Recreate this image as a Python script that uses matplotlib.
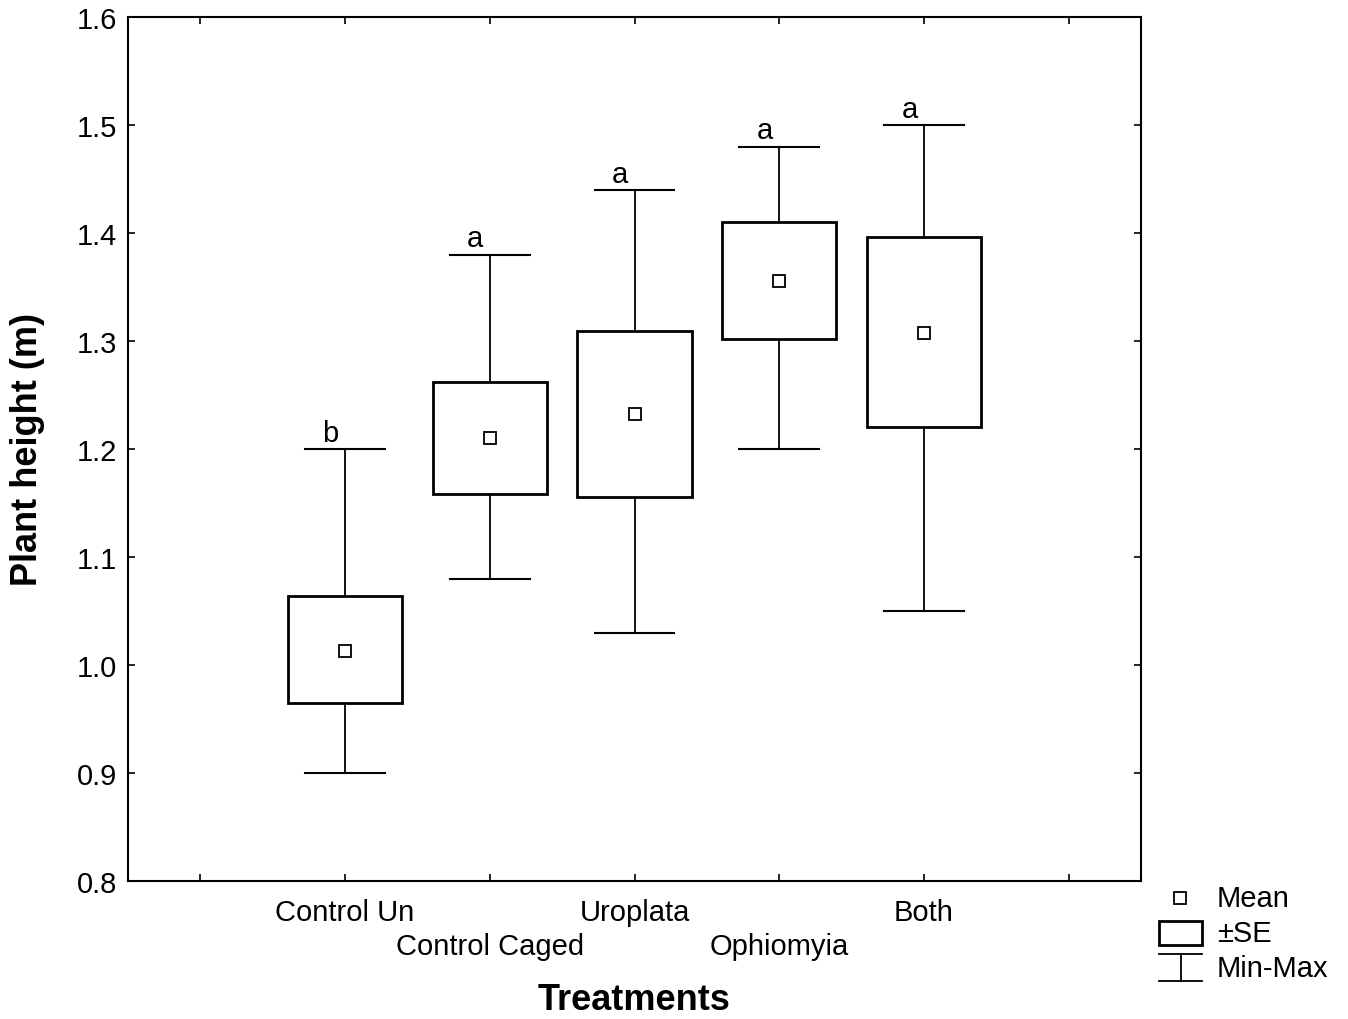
import matplotlib.pyplot as plt
from matplotlib.lines import Line2D
from matplotlib.patches import Rectangle

treatments = ['Control Un', 'Control Caged', 'Uroplata', 'Ophiomyia', 'Both']
means = [1.013, 1.210, 1.232, 1.356, 1.307]
se_low = [0.965, 1.158, 1.156, 1.302, 1.220]
se_high = [1.064, 1.262, 1.309, 1.410, 1.396]
mins = [0.90, 1.08, 1.03, 1.20, 1.05]
maxs = [1.20, 1.38, 1.44, 1.48, 1.50]
letters = ['b', 'a', 'a', 'a', 'a']

plt.rcParams['font.family'] = ['Liberation Sans', 'DejaVu Sans']
FS = 21

fig = plt.figure(figsize=(13.48, 10.2), dpi=100)
ax = fig.add_axes([128 / 1348, 1 - 882 / 1020, (1141 - 128) / 1348, (882 - 18) / 1020])

box_w = 0.79
cap_w = 0.55
for i, name in enumerate(treatments):
    x = i + 1
    ax.plot([x, x], [se_high[i], maxs[i]], color='black', lw=1.3, zorder=2)
    ax.plot([x, x], [mins[i], se_low[i]], color='black', lw=1.3, zorder=2)
    ax.plot([x - cap_w / 2, x + cap_w / 2], [maxs[i], maxs[i]], color='black', lw=1.5, zorder=2)
    ax.plot([x - cap_w / 2, x + cap_w / 2], [mins[i], mins[i]], color='black', lw=1.5, zorder=2)
    ax.add_patch(Rectangle((x - box_w / 2, se_low[i]), box_w, se_high[i] - se_low[i],
                           facecolor='white', edgecolor='black', lw=2, zorder=3))
    ax.plot(x, means[i], marker='s', ms=8, mfc='white', mec='black', mew=1.3, zorder=4)
    ax.text(x - 0.1, maxs[i] + 0.002, letters[i], ha='center', va='bottom', fontsize=FS)

ax.set_xlim(-0.5, 6.5)
ax.set_ylim(0.8, 1.6)
ax.set_xticks(range(7))
ax.set_xticklabels([''] * 7)
ax.set_yticks([0.8 + 0.1 * k for k in range(9)])
ax.set_yticklabels([f'{0.8 + 0.1 * k:.1f}' for k in range(9)], fontsize=FS)
ax.tick_params(direction='in', length=5, width=1.2, top=True, right=True, pad=8)
for s in ax.spines.values():
    s.set_linewidth(1.5)

# staggered category labels
for i, name in enumerate(treatments):
    ypix = 913 if i % 2 == 0 else 947
    fig.text(ax.transData.transform((i + 1, 1.0))[0] / 1348, 1 - ypix / 1020, name,
             ha='center', va='center', fontsize=FS)

ax.set_xlabel('Treatments', fontsize=26, fontweight='bold', va='center')
ax.xaxis.set_label_coords(0.5, -(1000 - 882) / 864)
ax.set_ylabel('Plant height (m)', fontsize=26, fontweight='bold', va='center')
ax.yaxis.set_label_coords(-(128 - 28) / 1013, 0.5)

# legend (drawn by hand outside the axes)
fig.add_artist(Line2D([1180 / 1348], [1 - 899 / 1020], marker='s', ms=8, mfc='white',
                      mec='black', mew=1.3, transform=fig.transFigure))
fig.add_artist(Rectangle((1159 / 1348, 1 - 946 / 1020), 43 / 1348, 24 / 1020,
                         facecolor='white', edgecolor='black', lw=2, transform=fig.transFigure))
fig.add_artist(Line2D([1159 / 1348, 1202 / 1348], [1 - 955 / 1020] * 2, color='black', lw=1.3,
                      transform=fig.transFigure))
fig.add_artist(Line2D([1159 / 1348, 1202 / 1348], [1 - 982 / 1020] * 2, color='black', lw=1.3,
                      transform=fig.transFigure))
fig.add_artist(Line2D([1181 / 1348, 1181 / 1348], [1 - 955 / 1020, 1 - 982 / 1020], color='black',
                      lw=1.3, transform=fig.transFigure))
for label, ypix in [('Mean', 899), ('±SE', 934), ('Min-Max', 969)]:
    fig.text(1217 / 1348, 1 - ypix / 1020, label, ha='left', va='center', fontsize=FS)

plt.savefig('out.png', dpi=100)
